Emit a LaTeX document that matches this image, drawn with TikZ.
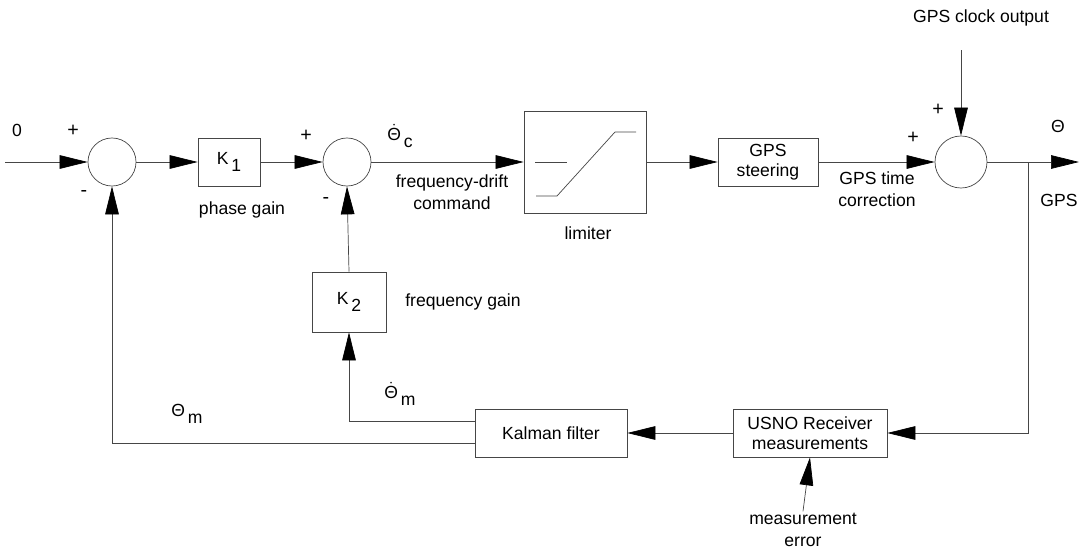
\documentclass[tikz,border=0pt]{standalone}
\usepackage{fontspec}
\setmainfont{Liberation Sans}
\usetikzlibrary{positioning, arrows.meta}
\definecolor{scanline}{RGB}{70, 70, 70}
\newcommand{\lowsub}[1]{\,\raisebox{-0.75ex}{#1}}
\newcommand{\thdot}{$\dot{\hbox{Θ}}$}
\tikzset{
    blkbox/.style={draw=scanline, line width=0.5pt, minimum width=#1,
                minimum height=1.2cm, align=center, inner sep=2pt,
                font=\fontsize{12.5}{14.5}\selectfont},
    sumcirc/.style={draw=scanline, line width=0.5pt, circle,
                minimum size=#1, inner sep=0pt},
    sumcirc/.default=1.2cm,
    sigarr/.style={-{Triangle[length=7mm, width=3.4mm, black]},
                line width=0.5pt, scanline},
    sigline/.style={line width=0.5pt, scanline},
    sglbl/.style={font=\fontsize{12.5}{16}\selectfont, align=center, inner sep=1pt},
    signlbl/.style={font=\fontsize{14}{14}\selectfont, inner sep=1pt},
}

\begin{document}
\begin{tikzpicture}[x=0.025cm, y=-0.025cm]
    \useasboundingbox (0,0) rectangle (1081,552);

    % forward path
    \coordinate (in0) at (5,162);
    \node[sumcirc] (sum1) at (112,162) {};
    \node[blkbox=1.55cm] (k1) at (229,162) {K\lowsub{1}};
    \node[sumcirc] (sum2) at (347,162) {};
    \node[blkbox=3.05cm, minimum height=2.55cm] (lim) at (585,162) {};
    \node[blkbox=2.5cm] (steer) at (768,162) {GPS\\steering};
    \node[sumcirc=1.3cm] (sum3) at (961,162) {};
    \coordinate (out) at (1079,162);
    \coordinate (br) at (1028,162);
    \coordinate (clk) at (961,50);

    % feedback path
    \node[blkbox=3.85cm] (usno) at (810,433) {USNO Receiver\\measurements};
    \node[blkbox=3.8cm] (kal) at (551,433) {Kalman filter};
    \node[blkbox=1.85cm, minimum height=1.5cm] (k2) at (349,302) {K\lowsub{2}};

    % labels
    \node[sglbl] (l0) at (17,130) {0};
    \node[signlbl] (p1) at (73,131) {+};
    \node[signlbl] (m1) at (84,193) {-};
    \node[signlbl] (p2) at (306,136) {+};
    \node[signlbl] (m2) at (326,200) {-};
    \node[signlbl] (p3) at (913,138) {+};
    \node[signlbl] (p4) at (938,110) {+};
    \node[sglbl] (lph) at (242,210) {phase gain};
    \node[sglbl] (lthc) at (400,136) {\thdot\lowsub{c}};
    \node[sglbl] (lcmd) at (452,192) {frequency-drift\\command};
    \node[sglbl] (llim) at (588,233) {limiter};
    \node[sglbl] (lcor) at (877,189) {GPS time\\correction};
    \node[sglbl] (lclk) at (981,18) {GPS clock output};
    \node[sglbl] (lth) at (1058,126) {Θ};
    \node[sglbl] (lgps) at (1059,200) {GPS};
    \node[sglbl] (lfg) at (463,302) {frequency gain};
    \node[sglbl] (lthm) at (400,394) {\thdot\lowsub{m}};
    \node[sglbl] (lm) at (187,414) {Θ\lowsub{m}};
    \node[sglbl] (err) at (803,530) {measurement\\error};

    % limiter characteristic
    \draw[sigline, shift={(lim.center)}] (-50,0) -- (-18,0);
    \draw[sigline, shift={(lim.center)}] (-49,34) -- (-28,34) -- (30,-30) -- (51,-30);

    \draw[sigarr] (in0) -- (sum1.west);
    \draw[sigarr] (sum1.east) -- (k1.west);
    \draw[sigarr] (k1.east) -- (sum2.west);
    \draw[sigarr] (sum2.east) -- (lim.west);
    \draw[sigarr] (lim.east) -- (steer.west);
    \draw[sigarr] (steer.east) -- (sum3.west);
    \draw[sigarr] (clk) -- (sum3.north);
    \draw[sigarr] (sum3.east) -- (out);

    \draw[sigarr] (br) |- (usno.east);
    \draw[sigarr] (usno.west) -- (kal.east);
    \draw[sigarr] (err.north) -- (usno.south);
    \draw[sigarr] ([yshift=3mm]kal.west) -| (k2.south);
    \draw[sigarr] ([yshift=-2.5mm]kal.west) -| (sum1.south);
    \draw[sigarr] (k2.north) -- (sum2.south);

\end{tikzpicture}
\end{document}
